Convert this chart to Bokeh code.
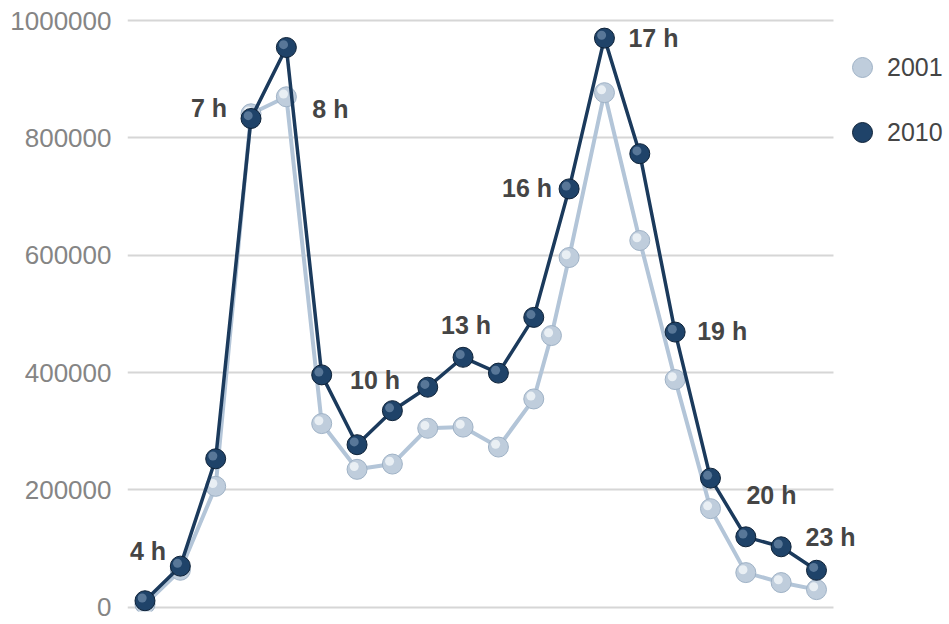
from bokeh.plotting import figure
from bokeh.models import (ColumnDataSource, Range1d, FixedTicker, BasicTickFormatter,
                          Legend, LegendItem, BoxAnnotation)
from bokeh.transform import dodge
from bokeh.core.properties import value
from bokeh.embed import file_html
from bokeh.resources import INLINE

# ---- data ----
hours_2010 = [4, 5, 6, 7, 8, 9, 10, 11, 12, 13, 14, 15, 16, 17, 18, 19, 20, 21, 22, 23]
visits_2010 = [11000, 70000, 253000, 833000, 954000, 396000, 277000, 335000, 375000, 426000,
               399000, 494000, 713000, 970000, 773000, 469000, 220000, 120000, 103000, 63000]

hours_2001 = [4, 5, 6, 7, 8, 9, 10, 11, 12, 13, 14, 15, 15.5, 16, 17, 18, 19, 20, 21, 22, 23]
visits_2001 = [5000, 63000, 206000, 841000, 870000, 313000, 235000, 244000, 305000, 307000,
               273000, 355000, 463000, 596000, 877000, 625000, 388000, 168000, 59000, 42000, 30000]

label_hours = [4, 7, 8, 10, 13, 16, 17, 19, 20, 23]
label_texts = ["4 h", "7 h", "8 h", "10 h", "13 h", "16 h", "17 h", "19 h", "20 h", "23 h"]

y_ticks = [0, 200000, 400000, 600000, 800000, 1000000]
series_names = ["2001", "2010"]

# ---- label layout (pixel offsets from the 2010 point) ----
label_dx = [3, -24, 26, -7, 3, -17, 24, 22, 36, -11]
label_dy = [-50, -10, 61, -65, -32, -1, 0, -1, 17, -33]
label_align = ["center", "right", "left", "left", "center", "right", "left", "left", "left", "left"]

FONT = "Liberation Sans"
GRID_END = 23.481  # where the horizontal rules stop (x units)

p = figure(width=948, height=623, output_backend="svg", toolbar_location=None,
           title=None, x_axis_location=None,
           x_range=Range1d(3.505, 26.735), y_range=Range1d(-7300, 1029000),
           min_border_left=127, min_border_right=0, min_border_top=3, min_border_bottom=12)
p.outline_line_color = None
p.background_fill_color = "white"
p.border_fill_color = "white"

# axes / grid
p.yaxis.ticker = FixedTicker(ticks=y_ticks)
p.yaxis.formatter = BasicTickFormatter(use_scientific=False)
p.yaxis.axis_line_color = None
p.yaxis.major_tick_line_color = None
p.yaxis.minor_tick_line_color = None
p.yaxis.major_label_standoff = 10
p.yaxis.major_label_text_font = FONT
p.yaxis.major_label_text_font_size = "26px"
p.yaxis.major_label_text_color = "#858585"
p.xgrid.grid_line_color = None
p.ygrid.ticker = FixedTicker(ticks=y_ticks)
p.ygrid.grid_line_color = "#d6d6d6"
p.ygrid.grid_line_width = 2

# blank out the rules to the right of the plotting area
p.add_layout(BoxAnnotation(left=GRID_END, fill_color="white", fill_alpha=1.0,
                           line_color=None, level="underlay"))

src01 = ColumnDataSource(dict(x=hours_2001, y=visits_2001))
src10 = ColumnDataSource(dict(x=hours_2010, y=visits_2010))

# 2001
p.line("x", "y", source=src01, line_color="#b3c5d8", line_width=4)
base01 = p.scatter("x", "y", source=src01, size=20, fill_color="#bfcddc",
                   line_color="#9fb2c6", line_width=1)
p.scatter(dodge("x", -0.08, range=p.x_range), dodge("y", 4800, range=p.y_range),
          source=src01, size=9, fill_color="#f4f7fa", fill_alpha=0.8, line_color=None)

# 2010
p.line("x", "y", source=src10, line_color="#1b3a5c", line_width=3.5)
base10 = p.scatter("x", "y", source=src10, size=20, fill_color="#1f4369",
                   line_color="#0e2238", line_width=1)
p.scatter(dodge("x", -0.08, range=p.x_range), dodge("y", 4800, range=p.y_range),
          source=src10, size=9, fill_color="#86a2c0", fill_alpha=0.55, line_color=None)

# hour labels
lab_y = [visits_2010[hours_2010.index(h)] for h in label_hours]
lab_src = ColumnDataSource(dict(x=label_hours, y=lab_y, t=label_texts,
                                dx=label_dx, dy=label_dy, al=label_align))
p.text("x", "y", text="t", source=lab_src, x_offset="dx", y_offset="dy",
       text_align="al", text_baseline="middle",
       text_font=value(FONT), text_font_style="bold", text_font_size="25px",
       text_color="#454545")

# legend
legend = Legend(items=[LegendItem(label=series_names[0], renderers=[base01]),
                       LegendItem(label=series_names[1], renderers=[base10])],
                location=(710, 454), orientation="vertical",
                glyph_width=50, glyph_height=50, spacing=15, padding=0, margin=0,
                label_standoff=0, border_line_color=None, background_fill_alpha=0,
                label_text_font=FONT, label_text_font_size="25px",
                label_text_color="#454545")
p.add_layout(legend, "center")

open("out.html", "w").write(file_html(p, INLINE))
